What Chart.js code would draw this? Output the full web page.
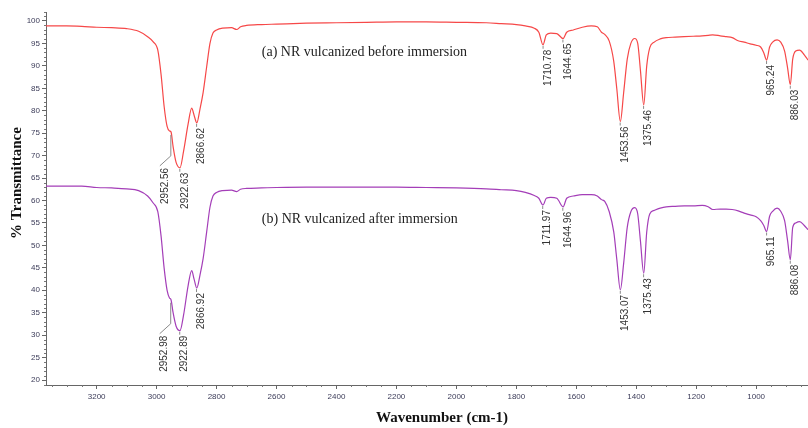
<!DOCTYPE html>
<html>
<head>
<meta charset="utf-8">
<script src="https://cdn.jsdelivr.net/npm/chart.js@4/dist/chart.umd.min.js"></script>
<style>
html, body { margin: 0; padding: 0; background: #fff; }
#wrap { width: 808px; height: 428px; }
</style>
</head>
<body>
<div id="wrap"><canvas id="chart" width="808" height="428"></canvas></div>
<script>
var wavenumbers = [3369, 3300, 3250, 3200, 3150, 3100, 3060, 3030, 3012, 2996, 2985, 2975, 2965, 2957, 2952, 2945, 2935, 2922, 2910, 2895,
    2883, 2875, 2866, 2855, 2845, 2833, 2822, 2812, 2800, 2780, 2750, 2733, 2720, 2700, 2650, 2600, 2500, 2400, 2300, 2200,
    2100, 2000, 1900, 1850, 1800, 1770, 1740, 1725, 1711, 1700, 1685, 1665, 1644, 1632, 1610, 1580, 1550, 1530, 1516, 1505,
    1490, 1475, 1465, 1453, 1442, 1430, 1418, 1405, 1395, 1386, 1375, 1365, 1355, 1340, 1320, 1300, 1270, 1240, 1210, 1180,
    1160, 1145, 1120, 1100, 1080, 1060, 1040, 1020, 1000, 985, 975, 965, 955, 945, 930, 918, 905, 895, 886, 878,
    868, 855, 840, 827];

// (a) before immersion
var before = [98.9, 98.9, 98.8, 98.6, 98.5, 98.3, 97.7, 96.5, 95.4, 93.5, 88, 81, 76.5, 75.5, 75.3, 72, 68.5, 67.3, 71, 77,
    80.6, 79, 77.3, 80.5, 84, 89.8, 95, 97.3, 98, 98.4, 98.5, 98.1, 98.7, 99, 99.2, 99.3, 99.5, 99.6, 99.7, 99.8,
    99.8, 99.7, 99.6, 99.4, 99.2, 98.9, 98.4, 97.5, 94.7, 96.9, 97.3, 97.2, 96.1, 97.5, 98, 98.6, 98.9, 98.7, 97.5, 97,
    95.5, 91, 85, 77.6, 84, 91.5, 95, 96.1, 95, 89, 81.3, 90, 94, 95.3, 96, 96.3, 96.4, 96.5, 96.6, 96.7,
    96.8, 96.9, 96.7, 96.5, 96.3, 95.6, 95.3, 94.9, 94.6, 94.2, 93, 91.3, 94.2, 95.3, 95.8, 95.3, 93.3, 89.5, 85.8, 91.5,
    93.3, 93.5, 92.5, 91.3];

// (b) after immersion
var after = [63.2, 63.2, 63.2, 62.9, 62.8, 62.6, 62.2, 61, 59.5, 57.5, 52, 45, 40, 38.3, 37.9, 35, 32, 31, 34.5, 41,
    44.4, 42.5, 40.5, 43.5, 47, 53, 58.5, 61, 61.8, 62.2, 62.3, 62, 62.5, 62.7, 62.8, 62.9, 63, 63, 63, 63,
    62.9, 62.8, 62.6, 62.4, 62.2, 61.8, 61.1, 60.5, 59, 60.5, 60.7, 60.5, 58.6, 60.5, 61, 61.3, 61.3, 61, 60.2, 59.8,
    57.5, 53, 47, 40.1, 46, 54, 57.5, 58.4, 57, 51, 43.8, 53, 57, 57.8, 58.3, 58.6, 58.7, 58.8, 58.8, 58.9,
    58.6, 58, 58.1, 58.1, 58, 57.7, 57.2, 56.8, 56.4, 55.5, 54.5, 53.1, 56.5, 57.6, 58.3, 57.6, 55.5, 51, 46.8, 54,
    55, 55.3, 54.5, 53.5];

var peaksBefore = ["2952.56", "2922.63", "2866.62", "1710.78", "1644.65", "1453.56", "1375.46", "965.24", "886.03"];
var peaksAfter = ["2952.98", "2922.89", "2866.92", "1711.97", "1644.96", "1453.07", "1375.43", "965.11", "886.08"];

var xTicks = [3200, 3000, 2800, 2600, 2400, 2200, 2000, 1800, 1600, 1400, 1200, 1000];
var yTicks = [20, 25, 30, 35, 40, 45, 50, 55, 60, 65, 70, 75, 80, 85, 90, 95, 100];

var seriesLabels = ["(a) NR vulcanized before immersion", "(b) NR vulcanized after immersion"];

var X_MIN = 827, X_MAX = 3369, Y_MIN = 18.9, Y_MAX = 102;
var RED = "rgb(246,72,72)", PURPLE = "rgb(164,62,184)";
var TICK_COLOR = "#3b3b58";

function toPoints(values) {
    var points = [];
    for (var i = 0; i < wavenumbers.length; i++) {
        points.push({ x: wavenumbers[i], y: values[i] });
    }
    return points;
}

function nearestIndex(wn) {
    var best = 0;
    for (var i = 1; i < wavenumbers.length; i++) {
        if (Math.abs(wavenumbers[i] - wn) < Math.abs(wavenumbers[best] - wn)) {
            best = i;
        }
    }
    return best;
}

function drawPeak(ctx, xs, ys, label, values, leader) {
    var wn = parseFloat(label),
        px = xs.getPixelForValue(wn),
        py = ys.getPixelForValue(values[nearestIndex(wn)]),
        tx, ty;

    ctx.strokeStyle = "#8a8a8a";
    ctx.lineWidth = 1;
    ctx.beginPath();
    if (leader) {
        ctx.moveTo(px, py + 3);
        ctx.lineTo(px, py + 24);
        ctx.lineTo(px - 11, py + 34);
        tx = px - 11 + 5;
        ty = py + 36;
    } else {
        ctx.moveTo(px, py + 1);
        ctx.lineTo(px, py + 4);
        tx = px + 5;
        ty = py + 5;
    }
    ctx.stroke();

    ctx.save();
    ctx.translate(tx, ty);
    ctx.rotate(-Math.PI / 2);
    ctx.fillStyle = "#333";
    ctx.font = "10px 'Liberation Sans', Arial, sans-serif";
    ctx.textAlign = "right";
    ctx.textBaseline = "middle";
    ctx.fillText(label, 0, 0);
    ctx.restore();
}

var decorPlugin = {
    id: "decor",
    afterDraw: function(chart) {
        var ctx = chart.ctx,
            xs = chart.scales.x,
            ys = chart.scales.y,
            area = chart.chartArea,
            v, p, i;

        ctx.save();

        // minor ticks
        ctx.strokeStyle = "#777";
        ctx.lineWidth = 1;
        ctx.beginPath();
        for (v = 850; v <= 3350; v += 50) {
            if (v % 200 === 0) continue;
            p = Math.round(xs.getPixelForValue(v)) + 0.5;
            ctx.moveTo(p, area.bottom);
            ctx.lineTo(p, area.bottom + 2);
        }
        for (v = 19; v <= 102; v += 1) {
            if (v % 5 === 0) continue;
            p = Math.round(ys.getPixelForValue(v)) + 0.5;
            ctx.moveTo(area.left, p);
            ctx.lineTo(area.left - 2, p);
        }
        ctx.stroke();

        for (i = 0; i < peaksBefore.length; i++) {
            drawPeak(ctx, xs, ys, peaksBefore[i], before, i === 0);
        }
        for (i = 0; i < peaksAfter.length; i++) {
            drawPeak(ctx, xs, ys, peaksAfter[i], after, i === 0);
        }

        // series captions
        ctx.fillStyle = "#222";
        ctx.font = "14px 'Liberation Serif', 'Times New Roman', serif";
        ctx.textAlign = "left";
        ctx.textBaseline = "middle";
        ctx.fillText(seriesLabels[0], xs.getPixelForValue(2649), ys.getPixelForValue(93.1));
        ctx.fillText(seriesLabels[1], xs.getPixelForValue(2649), ys.getPixelForValue(55.9));

        // axis titles
        ctx.fillStyle = "#111";
        ctx.font = "bold 15px 'Liberation Serif', 'Times New Roman', serif";
        ctx.textAlign = "center";
        ctx.fillText("Wavenumber (cm-1)", 442, 418);

        ctx.save();
        ctx.translate(17, 183);
        ctx.rotate(-Math.PI / 2);
        ctx.fillText("% Transmittance", 0, 0);
        ctx.restore();

        ctx.restore();
    }
};

var chart = new Chart(document.getElementById("chart").getContext("2d"), {
    type: "line",
    data: {
        datasets: [{
            label: seriesLabels[0],
            data: toPoints(before),
            borderColor: RED,
            borderWidth: 1.2,
            pointRadius: 0,
            cubicInterpolationMode: "monotone",
            fill: false
        }, {
            label: seriesLabels[1],
            data: toPoints(after),
            borderColor: PURPLE,
            borderWidth: 1.2,
            pointRadius: 0,
            cubicInterpolationMode: "monotone",
            fill: false
        }]
    },
    options: {
        responsive: false,
        animation: false,
        devicePixelRatio: 1,
        layout: {
            padding: { top: 12, right: 0, bottom: 0, left: 0 }
        },
        plugins: {
            legend: { display: false },
            tooltip: { enabled: false }
        },
        scales: {
            x: {
                type: "linear",
                reverse: true,
                min: X_MIN,
                max: X_MAX,
                afterBuildTicks: function(scale) {
                    scale.ticks = xTicks.map(function(v) { return { value: v }; });
                },
                afterFit: function(scale) {
                    scale.height = 43;
                },
                grid: {
                    drawOnChartArea: false,
                    drawTicks: true,
                    tickLength: 4,
                    tickColor: "#666"
                },
                border: { display: true, color: "#666", width: 1 },
                ticks: {
                    autoSkip: false,
                    maxRotation: 0,
                    padding: 3,
                    color: TICK_COLOR,
                    font: { size: 8, family: "'Liberation Sans', Arial, sans-serif" },
                    callback: function(value) {
                        return String(value);
                    }
                }
            },
            y: {
                type: "linear",
                min: Y_MIN,
                max: Y_MAX,
                afterBuildTicks: function(scale) {
                    scale.ticks = yTicks.map(function(v) { return { value: v }; });
                },
                afterFit: function(scale) {
                    scale.width = 46;
                },
                grid: {
                    drawOnChartArea: false,
                    drawTicks: true,
                    tickLength: 4,
                    tickColor: "#666"
                },
                border: { display: true, color: "#666", width: 1 },
                ticks: {
                    autoSkip: false,
                    padding: 2,
                    color: TICK_COLOR,
                    font: { size: 8, family: "'Liberation Sans', Arial, sans-serif" },
                    callback: function(value) {
                        return String(value);
                    }
                }
            }
        }
    },
    plugins: [decorPlugin]
});
</script>
</body>
</html>
